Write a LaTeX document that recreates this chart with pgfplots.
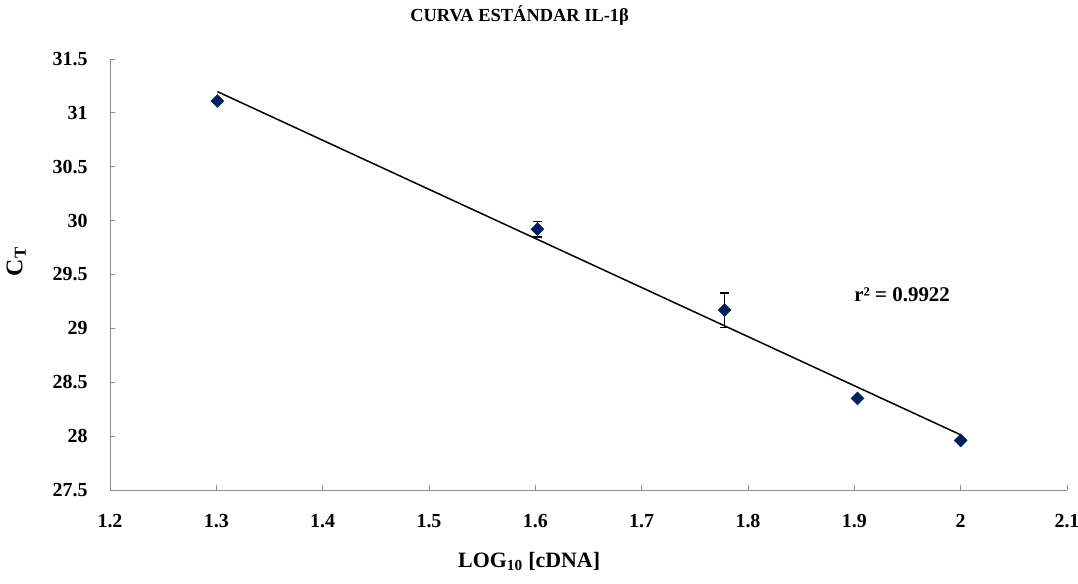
\documentclass[border=0pt]{standalone}
\usepackage{fontspec}
\setmainfont{Liberation Serif}
\usepackage{pgfplots}
\pgfplotsset{compat=1.18}
\definecolor{navy}{RGB}{0,32,96}
\definecolor{axgray}{RGB}{140,140,140}

\pgfplotstableread{
x y e
1.301 31.11 0
1.602 29.92 0.07
1.778 29.17 0.16
1.903 28.35 0
2.000 27.96 0
}\datatable

\begin{document}
\begin{tikzpicture}
\begin{axis}[
  scale only axis, width=957bp, height=431bp,
  xmin=1.2, xmax=2.1, ymin=27.5, ymax=31.5,
  xtick={1.2,1.3,1.4,1.5,1.6,1.7,1.8,1.9,2.0,2.1},
  ytick={27.5,28,28.5,29,29.5,30,30.5,31,31.5},
  axis x line*=bottom, axis y line*=left,
  axis line style={axgray, line width=0.8bp, -},
  tick style={axgray, line width=0.8bp},
  major tick length=5bp, tick align=inside,
  /pgf/number format/assume math mode=true,
  ticklabel style={font=\fontsize{20}{20}\selectfont\bfseries},
  xticklabel style={yshift=-21bp},
  yticklabel style={xshift=-19bp},
  title={CURVA ESTÁNDAR IL-1β},
  title style={at={(0.428,1.086)}, anchor=center, font=\fontsize{18.5}{18.5}\selectfont\bfseries},
  xlabel={LOG\textsubscript{10} [cDNA]},
  xlabel style={at={(0.438,-0.165)}, anchor=center, font=\fontsize{22}{22}\selectfont\bfseries},
  ylabel={C\textsubscript{T}},
  ylabel style={at={(-0.098,0.53)}, anchor=center, font=\fontsize{24}{24}\selectfont\bfseries},
  clip=false,
]
\addplot[black, line width=1.5bp, no marks] coordinates {(1.301,31.197) (2.0,28.012)};
\addplot[only marks, mark=square*, mark size=4.6bp,
  mark options={rotate=45, fill=navy, draw=navy},
  error bars/.cd, y dir=both, y explicit,
  error bar style={black, line width=1.5bp},
  error mark options={rotate=90, black, mark size=4.5bp, line width=1.5bp}]
  table[x=x, y=y, y error=e] {\datatable};
\node[font=\fontsize{21}{21}\selectfont\bfseries] at (axis cs:1.945,29.31) {r² = 0.9922};
\coordinate (sw) at (rel axis cs:0,0);
\coordinate (ne) at (rel axis cs:1,1);
\end{axis}
\pgfresetboundingbox
\path ([shift={(-110bp,-94bp)}]sw) rectangle ([shift={(11bp,59bp)}]ne);
\end{tikzpicture}
\end{document}
